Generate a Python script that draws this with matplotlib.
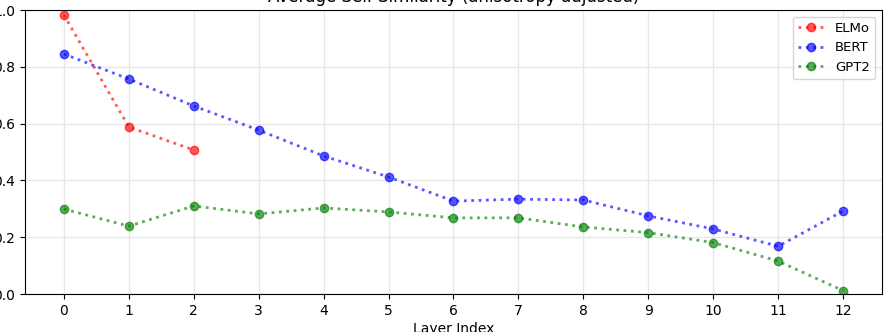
import matplotlib
matplotlib.use("Agg")
import matplotlib.pyplot as plt
import numpy as np

# layer indices and per-model average self similarity
layers = np.arange(13)
elmo = [0.982, 0.588, 0.507]
bert = [0.845, 0.757, 0.662, 0.577, 0.486, 0.412, 0.327, 0.334, 0.331, 0.275, 0.229, 0.168, 0.292]
gpt2 = [0.299, 0.239, 0.310, 0.282, 0.303, 0.289, 0.268, 0.268, 0.236, 0.216, 0.181, 0.116, 0.012]

fig = plt.figure(figsize=(8.87, 3.32), dpi=100)
ax = fig.add_axes([25 / 887, 38 / 332, 857 / 887, 284 / 332])

ax.plot(layers[:3], elmo, ':o', color='red', alpha=0.65, lw=2, label='ELMo')
ax.plot(layers, bert, ':o', color='blue', alpha=0.65, lw=2, label='BERT')
ax.plot(layers, gpt2, ':o', color='green', alpha=0.65, lw=2, label='GPT2')

ax.set_xticks(layers)
ax.set_ylim(0, 1.0)
ax.set_xlim(-0.6, 12.6)
ax.grid(True, color='#e8e8e8', lw=1)
ax.set_axisbelow(True)
ax.set_xlabel('Layer Index', labelpad=3)
ax.set_title('Average Self Similarity (anisotropy adjusted)')
ax.legend(loc='upper right', fontsize=9.5)

fig.savefig('out.png', dpi=100)
